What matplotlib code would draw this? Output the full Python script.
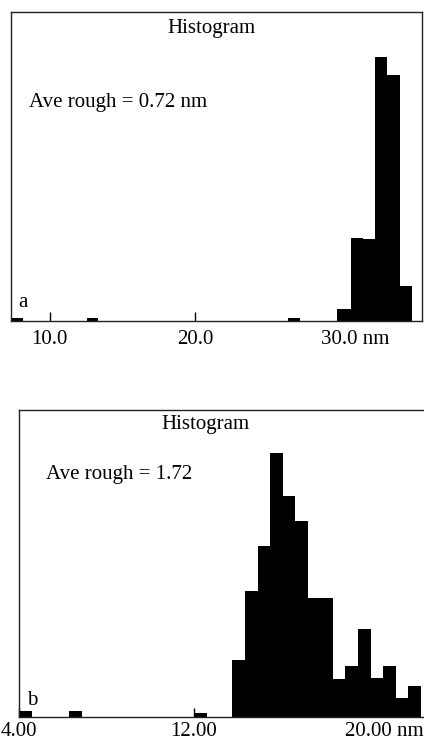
import numpy as np
import matplotlib
matplotlib.use("Agg")
import matplotlib.pyplot as plt

plt.rcParams['font.family'] = ['Liberation Serif', 'DejaVu Serif']
plt.rcParams['font.size'] = 15

# --- panel a: bar edges (nm) and counts (relative) ---
a_lo = [7.34, 12.57, 26.40, 29.77, 30.76, 31.54, 32.37, 33.20, 34.09]
a_hi = [8.16, 13.33, 27.20, 30.76, 31.54, 32.37, 33.20, 34.09, 34.92]
a_counts = [3, 3, 3, 12, 83, 82, 264, 246, 35]
a_ticks = [10, 20, 30]
a_ticklabels = ['10.0', '20.0', '']

# --- panel b: uniform bins starting at 4.00 nm ---
b_start = 4.0
b_width = 0.574
b_counts = [6, 0, 0, 0, 6, 0, 0, 0, 0, 0, 0, 0, 0, 0, 4, 0, 0,
            57, 126, 171, 264, 221, 196, 119, 119, 38, 51, 88, 39, 51, 19, 31]
b_ticks = [4, 12, 20]
b_ticklabels = ['4.00', '12.00', '']

fig = plt.figure(figsize=(4.24, 7.40), dpi=100)

# top histogram
ax1 = fig.add_axes([11 / 424, 1 - 320.5 / 740, 410.7 / 424, 308.8 / 740])
ax1.bar(a_lo, a_counts, width=np.subtract(a_hi, a_lo),
        align='edge', color='black', linewidth=0)
ax1.set_xlim(7.337, 35.6)
ax1.set_ylim(0, 308.8)
ax1.set_xticks(a_ticks, labels=a_ticklabels)
ax1.annotate('30.0 nm', xy=(30, 0), xycoords=('data', 'axes fraction'),
             xytext=(-19, -10), textcoords='offset pixels', ha='left', va='top')
ax1.text(0.017, 0.045, 'a', transform=ax1.transAxes, ha='left', va='baseline')

# bottom histogram
edges = b_start + b_width * np.arange(len(b_counts))
ax2 = fig.add_axes([19 / 424, 1 - 716.7 / 740, 406.9 / 424, 306.7 / 740])
ax2.bar(edges, b_counts, width=b_width, align='edge', color='black', linewidth=0)
ax2.set_xlim(4.0, 22.6)
ax2.set_ylim(0, 306.7)
ax2.set_xticks(b_ticks, labels=b_ticklabels)
ax2.annotate('20.00 nm', xy=(20, 0), xycoords=('data', 'axes fraction'),
             xytext=(-24, -5), textcoords='offset pixels', ha='left', va='top')
ax2.text(0.02, 0.038, 'b', transform=ax2.transAxes, ha='left', va='baseline')

for ax, pad in [(ax1, 7), (ax2, 3.5)]:
    ax.set_yticks([])
    ax.tick_params(axis='x', direction='in', length=6.5, width=1, pad=pad)
    for s in ax.spines.values():
        s.set_linewidth(1.0)
        s.set_color('#222222')

fig.text(211 / 424, 1 - 29 / 740, 'Histogram', ha='center', va='center')
fig.text(205 / 424, 1 - 424 / 740, 'Histogram', ha='center', va='center')
fig.text(29 / 424, 1 - 102 / 740, 'Ave rough = 0.72 nm', ha='left', va='center')
fig.text(46 / 424, 1 - 474 / 740, 'Ave rough = 1.72', ha='left', va='center')

fig.savefig('out.png', dpi=100)
